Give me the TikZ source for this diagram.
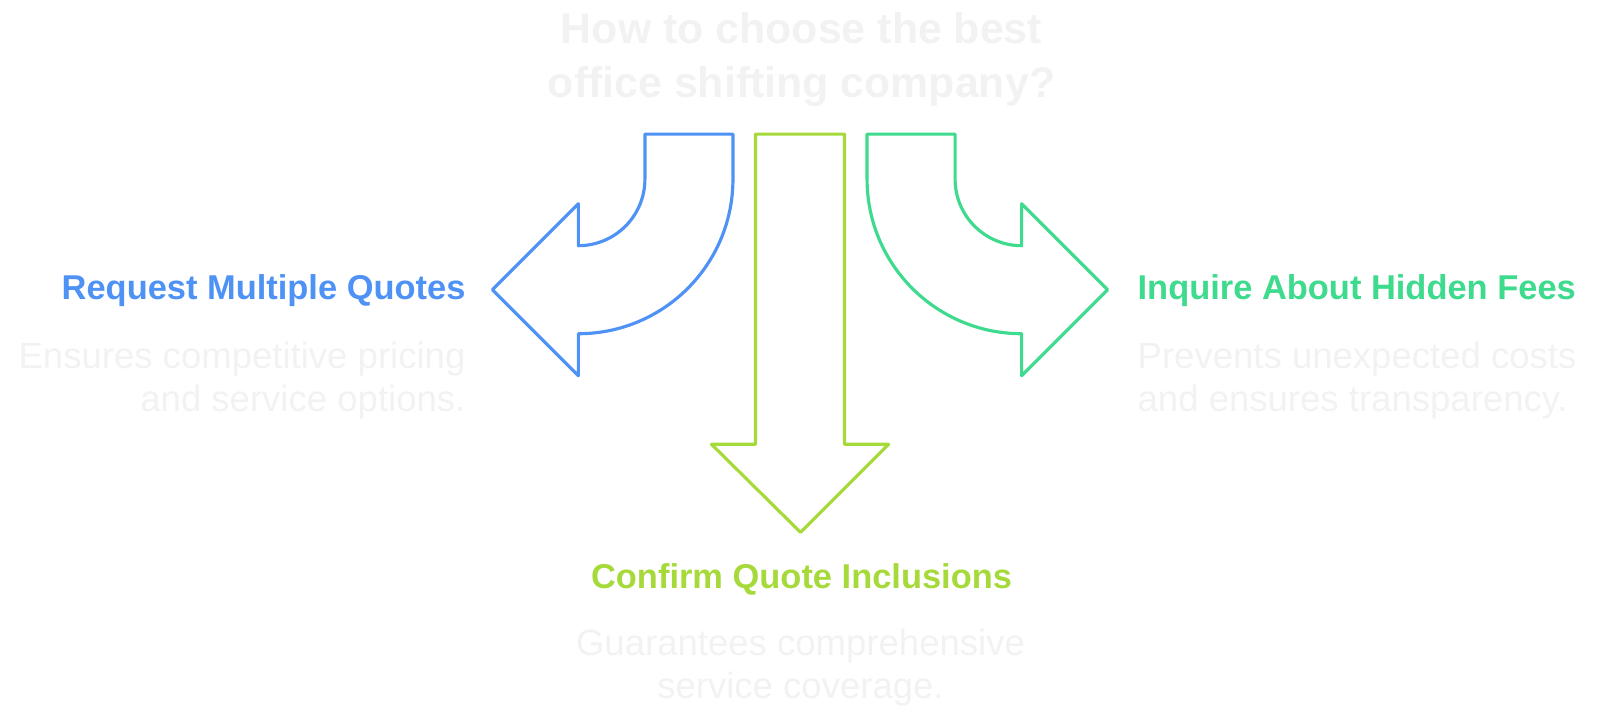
\documentclass[tikz,border=0pt]{standalone}
\usepackage{fontspec}
\setmainfont{Liberation Sans}
\definecolor{quoteblue}{HTML}{4F92F6}
\definecolor{quotelime}{HTML}{A6DA3B}
\definecolor{quotegreen}{HTML}{3EDA8D}
\definecolor{softgray}{HTML}{F2F2F2}
\tikzset{arrowline/.style={line width=1.8pt, line join=round},
 headline/.style={inner sep=0pt, font=\bfseries\fontsize{19.6}{23}\selectfont},
 descline/.style={inner sep=0pt, text=softgray, font=\fontsize{20.8}{24.7}\selectfont},
 titleline/.style={inner sep=0pt, text=softgray, font=\bfseries\fontsize{24.4}{30.5}\selectfont, align=center},
 }

\begin{document}
\begin{tikzpicture}[x=0.02047cm, y=-0.02047cm]
        \useasboundingbox (0,0) rectangle (1563,709.3);
        \node[titleline] (title) at (783,58) {How to choose the best\\office shifting company?};
        % the three arrows
        \draw[arrowline, quoteblue] (630,131) -- (716,131) -- (716,175)
            arc[start angle=0, end angle=90, radius=151] -- (565,367) -- (481,283)
            -- (565,199) -- (565,240) arc[start angle=90, end angle=0, radius=65] -- cycle;
        \draw[arrowline, quotelime] (738,131) -- (825,131) -- (825,434) -- (868,434)
            -- (782,520) -- (695,434) -- (738,434) -- cycle;
        \draw[arrowline, quotegreen] (933,131) -- (847,131) -- (847,175)
            arc[start angle=180, end angle=90, radius=151] -- (998,367) -- (1082,283)
            -- (998,199) -- (998,240) arc[start angle=90, end angle=180, radius=65] -- cycle;
        \node[headline, quoteblue, anchor=east] (reqhead) at (455,284) {Request Multiple Quotes};
        \node[descline, anchor=east, align=right] (reqdesc) at (455,372) {Ensures competitive pricing\\and service options.};
        \node[headline, quotelime] (confhead) at (783,566) {Confirm Quote Inclusions};
        \node[descline, align=center] (confdesc) at (782,652) {Guarantees comprehensive\\service coverage.};
        \node[headline, quotegreen, anchor=west] (feehead) at (1111,284) {Inquire About Hidden Fees};
        \node[descline, anchor=west, align=left] (feedesc) at (1111,372) {Prevents unexpected costs\\and ensures transparency.};
    \end{tikzpicture}
\end{document}
